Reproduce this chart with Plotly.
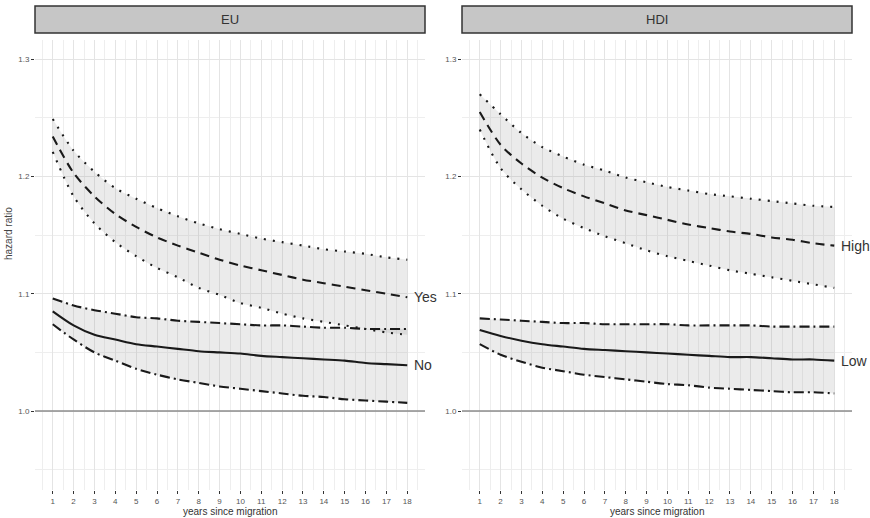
import plotly.graph_objects as go

W, H = 870, 518

years = list(range(1, 19))

# EU panel
eu_yes_mean = [1.234, 1.203, 1.183, 1.168, 1.157, 1.148, 1.141, 1.135, 1.129, 1.124, 1.120, 1.116, 1.112, 1.109, 1.106, 1.103, 1.100, 1.097]
eu_yes_upper = [1.249, 1.222, 1.204, 1.190, 1.181, 1.173, 1.166, 1.160, 1.155, 1.151, 1.147, 1.144, 1.141, 1.138, 1.136, 1.134, 1.131, 1.129]
eu_yes_lower = [1.221, 1.183, 1.160, 1.144, 1.132, 1.122, 1.114, 1.105, 1.099, 1.092, 1.088, 1.083, 1.079, 1.076, 1.073, 1.070, 1.067, 1.065]
eu_no_mean = [1.085, 1.073, 1.065, 1.061, 1.057, 1.055, 1.053, 1.051, 1.050, 1.049, 1.047, 1.046, 1.045, 1.044, 1.043, 1.041, 1.040, 1.039]
eu_no_upper = [1.096, 1.090, 1.086, 1.083, 1.080, 1.079, 1.077, 1.076, 1.075, 1.074, 1.073, 1.073, 1.072, 1.071, 1.071, 1.070, 1.070, 1.070]
eu_no_lower = [1.074, 1.061, 1.050, 1.043, 1.036, 1.031, 1.027, 1.024, 1.021, 1.019, 1.017, 1.015, 1.013, 1.012, 1.010, 1.009, 1.008, 1.007]

# HDI panel
hdi_high_mean = [1.255, 1.227, 1.211, 1.199, 1.190, 1.183, 1.177, 1.171, 1.167, 1.163, 1.159, 1.156, 1.153, 1.151, 1.148, 1.146, 1.143, 1.141]
hdi_high_upper = [1.270, 1.253, 1.237, 1.225, 1.217, 1.210, 1.205, 1.199, 1.195, 1.191, 1.188, 1.185, 1.183, 1.181, 1.179, 1.177, 1.175, 1.174]
hdi_high_lower = [1.240, 1.207, 1.189, 1.175, 1.164, 1.156, 1.149, 1.143, 1.137, 1.132, 1.128, 1.124, 1.120, 1.117, 1.114, 1.111, 1.108, 1.105]
hdi_low_mean = [1.069, 1.064, 1.060, 1.057, 1.055, 1.053, 1.052, 1.051, 1.050, 1.049, 1.048, 1.047, 1.046, 1.046, 1.045, 1.044, 1.044, 1.043]
hdi_low_upper = [1.079, 1.078, 1.077, 1.076, 1.075, 1.075, 1.074, 1.074, 1.074, 1.074, 1.073, 1.073, 1.073, 1.073, 1.072, 1.072, 1.072, 1.072]
hdi_low_lower = [1.057, 1.048, 1.042, 1.037, 1.034, 1.031, 1.029, 1.027, 1.025, 1.023, 1.022, 1.020, 1.019, 1.018, 1.017, 1.016, 1.016, 1.015]

panel_titles = ["EU", "HDI"]
group_labels = [["Yes", "No"], ["High", "Low"]]
y_ticks = [1.0, 1.1, 1.2, 1.3]
reference_hr = 1.0
x_title = "years since migration"
y_title = "hazard ratio"

panels = [
    [(eu_yes_mean, eu_yes_lower, eu_yes_upper, "dash", "dot"),
     (eu_no_mean, eu_no_lower, eu_no_upper, "solid", "dashdot")],
    [(hdi_high_mean, hdi_high_lower, hdi_high_upper, "dash", "dot"),
     (hdi_low_mean, hdi_low_lower, hdi_low_upper, "solid", "dashdot")],
]

DASH = {"solid": "solid", "dash": "9px,6px", "dot": "2px,7px", "dashdot": "10px,4px,2px,4px"}

fig = go.Figure()

px_x = [(35, 425), (462, 852)]
plot_top, plot_bot = 40, 490
ydom = [(H - plot_bot) / H, (H - plot_top) / H]

band_fill = "rgba(150,150,150,0.19)"
ink = "#1a1a1a"

for p in range(2):
    xa = "x" if p == 0 else "x2"
    ya = "y" if p == 0 else "y2"
    for (mean, lo, hi, mdash, cdash), lab in zip(panels[p], group_labels[p]):
        fig.add_trace(go.Scatter(x=years, y=hi, mode="lines", line=dict(width=0, color=band_fill, shape="spline", smoothing=0.8),
                                 xaxis=xa, yaxis=ya, showlegend=False, hoverinfo="skip"))
        fig.add_trace(go.Scatter(x=years, y=lo, mode="lines", line=dict(width=0, color=band_fill, shape="spline", smoothing=0.8),
                                 fill="tonexty", fillcolor=band_fill,
                                 xaxis=xa, yaxis=ya, showlegend=False, hoverinfo="skip"))
    fig.add_shape(type="line", xref=f"{xa} domain", yref=ya, x0=0, x1=1,
                  y0=reference_hr, y1=reference_hr, line=dict(color="#8c8c8c", width=1.6), layer="above")
    for (mean, lo, hi, mdash, cdash), lab in zip(panels[p], group_labels[p]):
        for ser, d in ((hi, cdash), (lo, cdash), (mean, mdash)):
            fig.add_trace(go.Scatter(x=years, y=ser, mode="lines",
                                     line=dict(color=ink, width=2.1, dash=DASH[d], shape="spline", smoothing=0.8),
                                     xaxis=xa, yaxis=ya, showlegend=False))
        fig.add_annotation(x=years[-1], y=mean[-1], xref=xa, yref=ya, text=lab,
                           showarrow=False, xanchor="left", yanchor="middle", xshift=5,
                           font=dict(size=14, color="#333333"))

    x0, x1 = px_x[p]
    fig.add_shape(type="rect", xref="paper", yref="paper",
                  x0=x0 / W, x1=x1 / W, y0=(H - 33) / H, y1=(H - 6) / H,
                  fillcolor="#c6c6c6", line=dict(color="#333333", width=1.5))
    fig.add_annotation(x=(x0 + x1) / 2 / W, y=(H - 19.5) / H, xref="paper", yref="paper",
                       text=panel_titles[p], showarrow=False, xanchor="center", yanchor="middle",
                       font=dict(size=13, color="#333333"))
    fig.add_annotation(x=(x0 + x1) / 2 / W, y=(H - 511) / H, xref="paper", yref="paper",
                       text=x_title, showarrow=False, xanchor="center", yanchor="middle",
                       font=dict(size=10, color="#333333"))

fig.add_annotation(x=8 / W, y=(H - 234) / H, xref="paper", yref="paper", text=y_title,
                   textangle=-90, showarrow=False, xanchor="center", yanchor="middle",
                   font=dict(size=10, color="#444444"))

xaxis_common = dict(range=[0.15, 18.85], tickmode="array", tickvals=years,
                    ticktext=[str(v) for v in years], showgrid=True, gridcolor="#e4e4e4", gridwidth=1,
                    minor=dict(dtick=0.5, tick0=0.5, showgrid=True, gridcolor="#eeeeee", gridwidth=1),
                    zeroline=False, showline=False, ticks="outside", ticklen=3, tickcolor="#333333",
                    tickwidth=1, tickfont=dict(size=8, color="#555555"), fixedrange=True)
yaxis_common = dict(range=[0.9327, 1.3163], tickmode="array", tickvals=y_ticks,
                    ticktext=[f"{v:.1f}" for v in y_ticks], showgrid=True, gridcolor="#e4e4e4", gridwidth=1,
                    minor=dict(dtick=0.05, tick0=0.95, showgrid=True, gridcolor="#eeeeee", gridwidth=1),
                    zeroline=False, showline=False, ticks="outside", ticklen=3, tickcolor="#333333",
                    tickwidth=1, tickfont=dict(size=8, color="#555555"), fixedrange=True)

fig.update_layout(
    width=W, height=H, margin=dict(l=0, r=0, t=0, b=0),
    paper_bgcolor="white", plot_bgcolor="white",
    font=dict(family="Liberation Sans, Arial, sans-serif"),
    xaxis=dict(domain=[px_x[0][0] / W, px_x[0][1] / W], anchor="y", **xaxis_common),
    xaxis2=dict(domain=[px_x[1][0] / W, px_x[1][1] / W], anchor="y2", **xaxis_common),
    yaxis=dict(domain=ydom, anchor="x", **yaxis_common),
    yaxis2=dict(domain=ydom, anchor="x2", **yaxis_common),
    showlegend=False,
)

for tr in fig.data:
    tr.cliponaxis = False

fig.write_html("out.html")
